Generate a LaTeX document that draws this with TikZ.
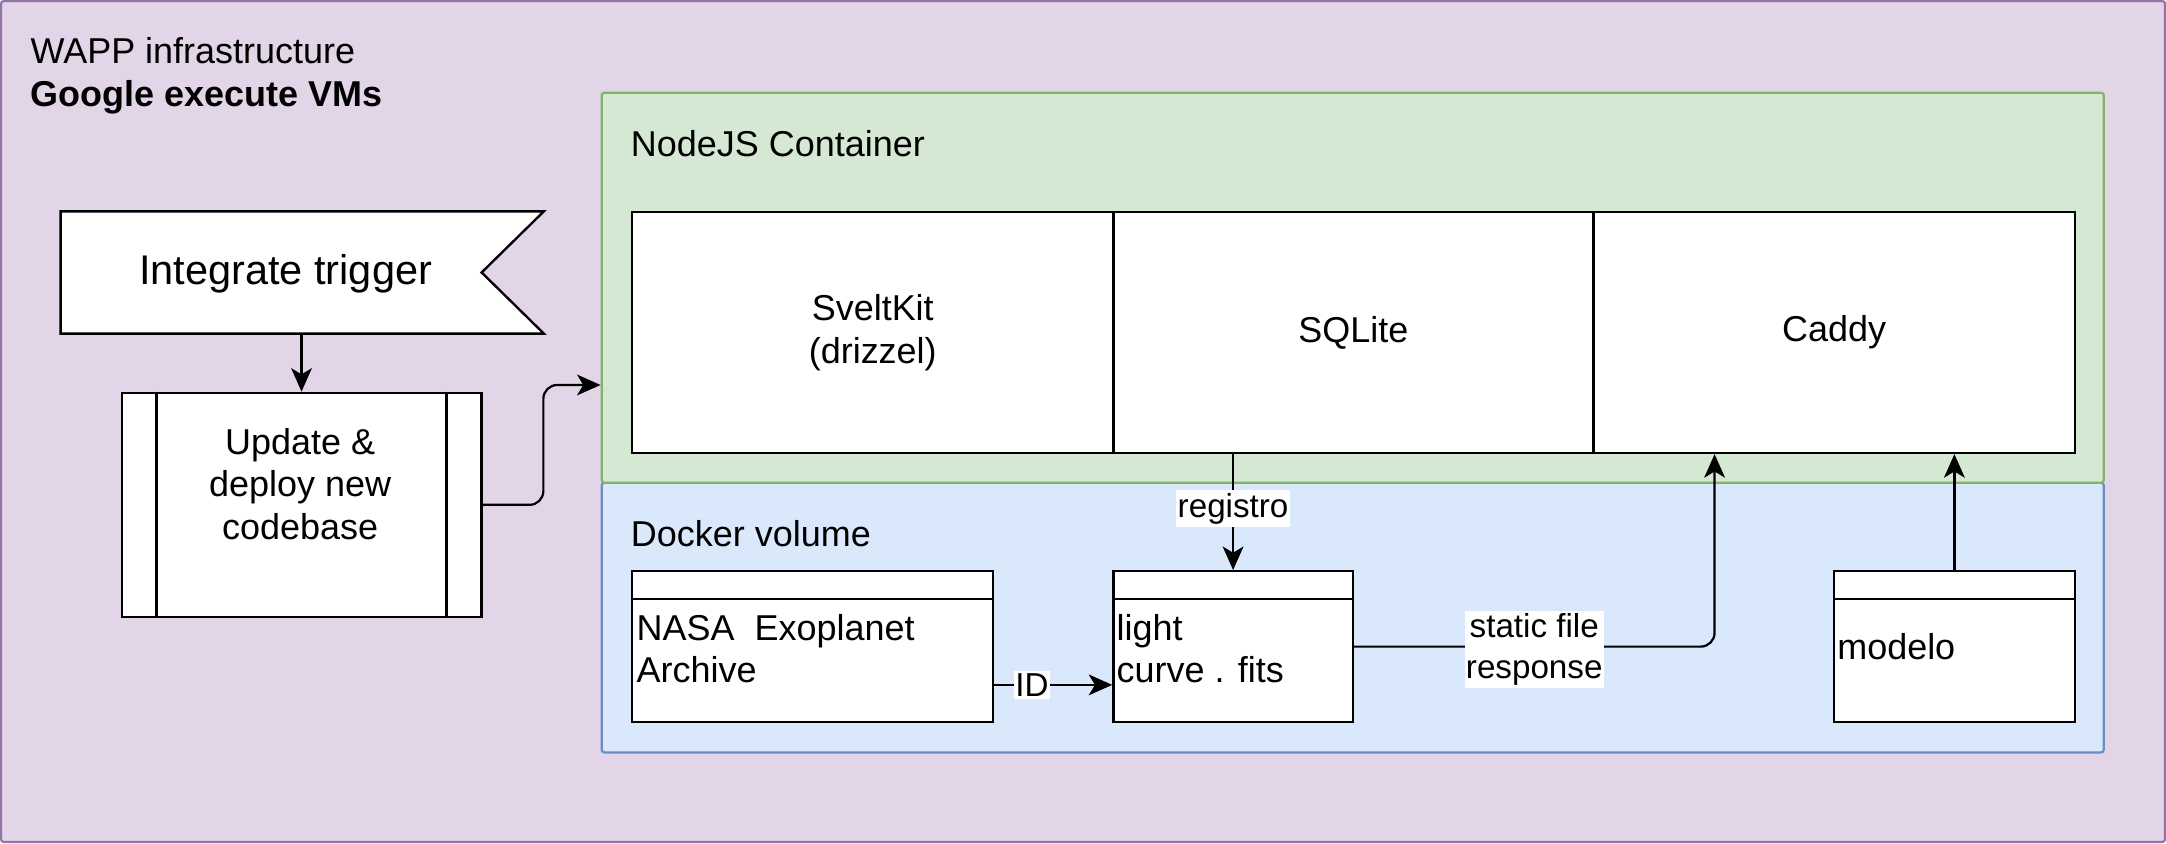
\documentclass[tikz,border=0pt]{standalone}
\usepackage{fontspec}
\setmainfont{Liberation Sans}
\usetikzlibrary{arrows.meta,calc}
\definecolor{wappfill}{HTML}{E1D5E7}
\definecolor{wappline}{HTML}{9673A6}
\definecolor{nodefill}{HTML}{D5E8D4}
\definecolor{nodeline}{HTML}{82B366}
\definecolor{dockfill}{HTML}{DAE8FC}
\definecolor{dockline}{HTML}{6C8EBF}
\begin{document}
\begin{tikzpicture}[x=1pt,y=-1pt,
  every node/.style={font=\fontsize{26}{31}\selectfont},
  box/.style={draw=black, line width=1.7pt, fill=white, inner sep=0pt, rectangle},
  container/.style={line width=1.6pt, inner sep=0pt, rectangle, rounded corners=2pt},
  conn/.style={draw=black, line width=1.6pt, -{Stealth[length=17pt,width=15pt,inset=4.5pt]}},
  lbl/.style={fill=white, sharp corners, font=\fontsize{24}{29}\selectfont, inner xsep=1pt, inner ysep=2pt, align=center},
  txt/.style={inner sep=0pt, align=left}
]
\useasboundingbox (0,0) rectangle (1566,609.5);
% outer
\node[container, draw=wappline, fill=wappfill, minimum width=1564.5pt, minimum height=608pt] (wapp) at (783,304.75) {};
\node[txt, anchor=west] (wapptitle) at (22,54.5) {WAPP infrastructure\\\textbf{Google execute VMs}};
% containers
\node[container, draw=dockline, fill=dockfill, minimum width=1086pt, minimum height=195pt] (docker) at (978,446.5) {};
\node[container, draw=nodeline, fill=nodefill, minimum width=1086pt, minimum height=282pt] (nodejs) at (978,208) {};
\node[txt, anchor=west] (nodejstitle) at (456,104) {NodeJS Container};
\node[txt, anchor=west] (dockertitle) at (456,386) {Docker volume};
% inner blocks
\node[box, minimum width=348pt, minimum height=174pt, align=center] (svelte) at (631,240.5) {SveltKit\\(drizzel)};
\node[box, minimum width=347pt, minimum height=174pt] (sqlite) at (978.5,240.5) {SQLite};
\node[box, minimum width=348pt, minimum height=174pt] (caddy) at (1326,240.5) {Caddy};
% volume items
\node[box, minimum width=261pt, minimum height=109pt] (nasa) at (587.5,467.5) {};
\node[box, minimum width=173pt, minimum height=109pt] (lc) at (891.5,467.5) {};
\node[box, minimum width=174pt, minimum height=109pt] (modelo) at (1413,467.5) {};
\foreach \b in {nasa,lc,modelo}{
  \draw[line width=1.7pt] ($(\b.north west)+(0,21)$) -- ($(\b.north east)+(0,21)$);
}
\node[txt, anchor=west] (nasatext) at ($(nasa.west)+(4,1.5)$) {NASA\ \ Exoplanet\\Archive};
\node[txt, anchor=west] (lctext) at ($(lc.west)+(3,1.5)$) {light\\curve . fits};
\node[txt, anchor=west] (modelotext) at ($(modelo.west)+(3,0)$) {modelo};
% trigger flag
\node[inner sep=0pt, minimum width=349pt, minimum height=88pt] (trigger) at (218.5,197) {};
\draw[line width=1.7pt, fill=white] (trigger.north west) -- (trigger.north east) -- ($(trigger.east)+(-45,0)$) -- (trigger.south east) -- (trigger.south west) -- cycle;
\node[inner sep=0pt, font=\fontsize{30}{36}\selectfont] (triggertext) at (206.5,198) {Integrate trigger};
% update process
\node[box, minimum width=260pt, minimum height=162pt] (update) at (218,365) {};
\draw[line width=1.7pt] ($(update.north west)+(26,0)$) -- ($(update.south west)+(26,0)$);
\draw[line width=1.7pt] ($(update.north east)+(-26,0)$) -- ($(update.south east)+(-26,0)$);
\node[txt, align=center] (updatetext) at (217,350) {Update \&\\deploy new\\codebase};
% connectors
\draw[conn] (update.north |- trigger.south) -- (update.north);
\coordinate (njin) at ($(nodejs.south west)!0.252!(nodejs.north west)$);
\draw[conn, rounded corners=10pt] (update.east) -- ++(44,0) |- (njin);
\draw[conn] (lc.north |- sqlite.south) -- node[lbl, pos=0.47] (registro) {registro} (lc.north);
\coordinate (nasaout) at ($(nasa.north east)!0.75!(nasa.south east)$);
\draw[conn] (nasaout) -- node[lbl, pos=0.32] (idlbl) {ID} (lc.west |- nasaout);
\coordinate (caddyin) at ($(caddy.south west)!0.253!(caddy.south east)$);
\draw[conn, rounded corners=10pt] (lc.east) -- node[lbl, pos=0.5, yshift=-2pt] (static) {static file\\response} (lc.east -| caddyin) -- (caddyin);
\draw[conn] (modelo.north) -- (modelo.north |- caddy.south);
\end{tikzpicture}
\end{document}
